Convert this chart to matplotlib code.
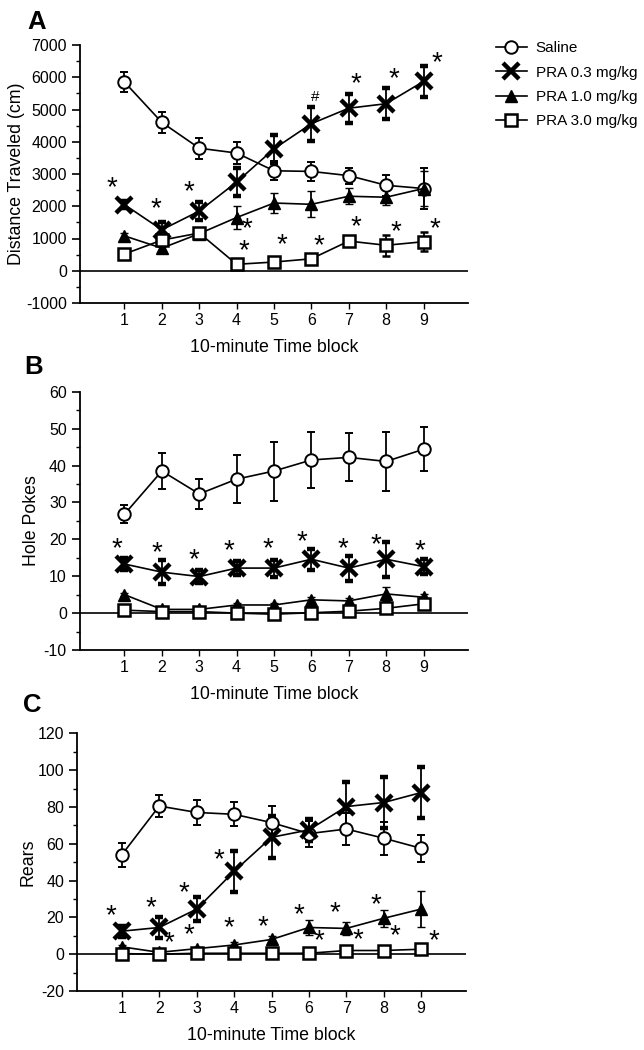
import numpy as np
import matplotlib
matplotlib.use("Agg")
import matplotlib.pyplot as plt
from matplotlib.ticker import MultipleLocator

plt.rcParams["font.family"] = ["Liberation Sans", "DejaVu Sans"]
plt.rcParams["axes.unicode_minus"] = False

# Data
blocks = [1, 2, 3, 4, 5, 6, 7, 8, 9]
groups = ["Saline", "PRA 0.3 mg/kg", "PRA 1.0 mg/kg", "PRA 3.0 mg/kg"]

# A - distance traveled (cm)
dist_saline = [5850, 4600, 3800, 3650, 3100, 3080, 2950, 2650, 2550]
dist_saline_err = [320, 320, 330, 350, 300, 300, 250, 330, 650]
dist_03 = [2050, 1270, 1850, 2750, 3780, 4560, 5040, 5180, 5870]
dist_03_err = [100, 230, 280, 430, 430, 530, 450, 490, 470]
dist_10 = [1080, 700, 1150, 1650, 2100, 2060, 2310, 2280, 2550]
dist_10_err = [80, 80, 150, 370, 320, 400, 250, 250, 550]
dist_30 = [520, 950, 1170, 200, 270, 370, 920, 790, 900]
dist_30_err = [60, 100, 120, 60, 150, 60, 100, 320, 300]
dist_marks = [(0.66, 2550, "*"), (1.84, 1900, "*"), (2.72, 2450, "*"),
              (4.28, 1300, "*"), (4.2, 600, "*"), (5.2, 800, "*"), (6.2, 760, "*"),
              (6.1, 5400, "#"), (7.18, 5780, "*"), (8.2, 5940, "*"), (9.37, 6450, "*"),
              (7.18, 1360, "*"), (8.27, 1200, "*"), (9.3, 1300, "*")]

# B - hole pokes
poke_saline = [26.8, 38.5, 32.3, 36.3, 38.5, 41.5, 42.2, 41.1, 44.4]
poke_saline_err = [2.5, 4.8, 4.0, 6.5, 8.0, 7.5, 6.5, 8.0, 6.0]
poke_03 = [13.3, 11.1, 9.9, 12.2, 12.2, 14.6, 12.2, 14.6, 12.6]
poke_03_err = [1.7, 3.2, 1.8, 2.0, 2.3, 2.9, 3.4, 4.8, 2.0]
poke_10 = [5.0, 1.0, 1.0, 2.2, 2.2, 3.6, 3.3, 5.2, 4.3]
poke_10_err = [0.5, 0.5, 0.5, 0.6, 0.6, 0.8, 0.8, 2.0, 1.0]
poke_30 = [0.8, 0.4, 0.4, 0.0, -0.3, 0.1, 0.5, 1.3, 2.5]
poke_30_err = [0.3, 0.3, 0.3, 0.3, 0.3, 0.3, 0.3, 0.5, 1.0]
poke_marks = [(0.81, 17.3, "*"), (1.86, 16.3, "*"), (2.87, 14.4, "*"), (3.8, 16.9, "*"),
              (4.83, 17.3, "*"), (5.74, 19.1, "*"), (6.85, 17.2, "*"), (7.73, 18.5, "*"),
              (8.9, 16.7, "*")]

# C - rears
rear_saline = [54, 80.5, 77, 76, 71.5, 65.5, 68, 63, 57.5]
rear_saline_err = [6.5, 5.8, 7.0, 6.5, 9.0, 7.0, 8.5, 9.0, 7.5]
rear_03 = [12.5, 14.5, 24.5, 45, 63.5, 67.5, 80.2, 82.4, 87.8]
rear_03_err = [3.0, 5.5, 6.5, 11.0, 11.5, 6.0, 13.5, 13.8, 13.8]
rear_10 = [4.0, 1.0, 3.0, 5.0, 8.0, 14.5, 14.0, 19.5, 24.5]
rear_10_err = [1.0, 1.0, 1.0, 1.5, 2.0, 4.0, 3.5, 4.5, 10.0]
rear_30 = [0.3, 0.0, 0.5, 0.5, 0.5, 0.5, 2.0, 2.0, 2.7]
rear_30_err = [0.3, 0.3, 0.3, 0.3, 0.3, 0.3, 0.5, 0.5, 0.5]
rear_marks = [(0.7, 20.8, "*"), (1.78, 25.0, "*"), (2.65, 33.2, "*"), (3.6, 50.9, "*"),
              (2.8, 10.5, "*"), (3.85, 14.1, "*"), (4.77, 14.7, "*"), (5.74, 21.4, "*"),
              (6.7, 22.3, "*"), (7.8, 26.8, "*"),
              (2.25, 6.0, "*"), (6.27, 6.8, "*"), (7.3, 7.8, "*"), (8.3, 9.6, "*"),
              (9.35, 6.8, "*")]

# Styles
styles = [
    dict(marker="o", ms=9, mfc="white", mec="black", mew=1.4),
    dict(marker="x", ms=12, mfc="black", mec="black", mew=3.2),
    dict(marker="^", ms=8, mfc="black", mec="black", mew=1.0),
    dict(marker="s", ms=8, mfc="white", mec="black", mew=1.8),
]

W, H = 644, 1050


def rect(left, right, top, bottom):
    return [left / W, 1 - bottom / H, (right - left) / W, (bottom - top) / H]


fig = plt.figure(figsize=(W / 100, H / 100), dpi=100)


def panel(r, series, errs, marks, ylim, major, minor, ylabel, ylab_x, letter, letter_xy):
    ax = fig.add_axes(r)
    ax.axhline(0, color="black", lw=1.2, zorder=1)
    handles = []
    for vals, err, st in zip(series, errs, styles):
        eb = ax.errorbar(blocks, vals, yerr=err, color="black", lw=1.2,
                         elinewidth=1.3, capsize=3, capthick=1.3, zorder=3, **st)
        handles.append(eb[0])
    for x, y, t in marks:
        fs = 11 if t == "#" else 20
        ax.text(x, y, t, ha="center", va="center", fontsize=fs)
    ax.set_xlim(-0.19, 10.19)
    ax.set_ylim(*ylim)
    ax.set_xticks(blocks)
    ax.yaxis.set_major_locator(MultipleLocator(major))
    ax.yaxis.set_minor_locator(MultipleLocator(minor))
    for s in ["top", "right"]:
        ax.spines[s].set_visible(False)
    for s in ["left", "bottom"]:
        ax.spines[s].set_linewidth(1.3)
    ax.tick_params(axis="y", which="major", length=6, width=1.2, labelsize=11.5, direction="out")
    ax.tick_params(axis="y", which="minor", length=3, width=1.0, direction="out")
    ax.tick_params(axis="x", length=4, width=1.0, labelsize=11.5, pad=3)
    ax.set_xlabel("10-minute Time block", fontsize=12.8, labelpad=8)
    ax.set_ylabel(ylabel, fontsize=12.8)
    ax.yaxis.set_label_coords(ylab_x, 0.5)
    fig.text(letter_xy[0] / W, 1 - letter_xy[1] / H, letter, fontsize=18.5,
             fontweight="bold", ha="center", va="center")
    return ax, handles


axA, hA = panel(rect(80, 468, 45, 303),
                [dist_saline, dist_03, dist_10, dist_30],
                [dist_saline_err, dist_03_err, dist_10_err, dist_30_err],
                dist_marks, (-1000, 7000), 1000, 500,
                "Distance Traveled (cm)", -0.142, "A", (37, 22))

axB, _ = panel(rect(80, 468, 391.7, 650),
               [poke_saline, poke_03, poke_10, poke_30],
               [poke_saline_err, poke_03_err, poke_10_err, poke_30_err],
               poke_marks, (-10, 60), 10, 5,
               "Hole Pokes", -0.103, "B", (34, 367))

axC, _ = panel(rect(77.3, 465.7, 733.3, 991),
               [rear_saline, rear_03, rear_10, rear_30],
               [rear_saline_err, rear_03_err, rear_10_err, rear_30_err],
               rear_marks, (-20, 120), 20, 10,
               "Rears", -0.104, "C", (32, 705))

fig.legend(hA, groups, loc="upper left", bbox_to_anchor=(490 / W, 1 - 35 / H),
           frameon=False, fontsize=11, handlelength=2.0, handletextpad=0.6,
           labelspacing=0.68, borderaxespad=0)

fig.savefig("out.png", dpi=100)
